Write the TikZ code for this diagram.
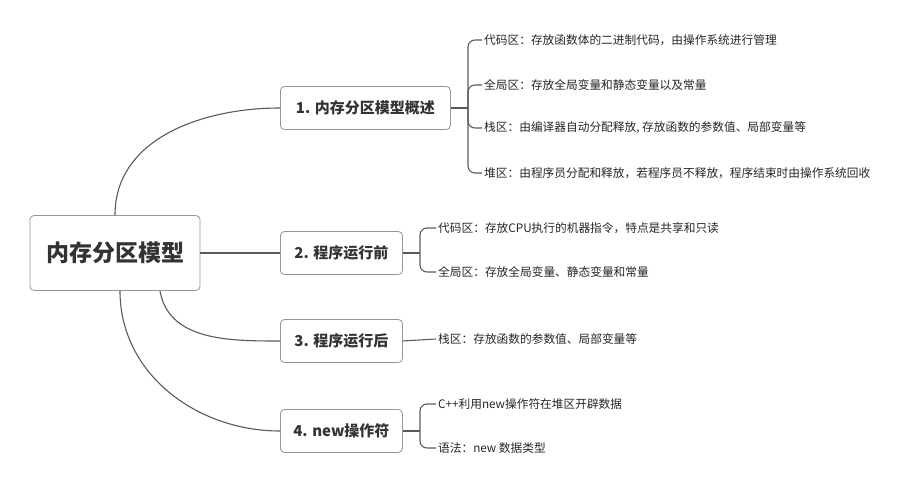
\documentclass[tikz,border=0pt]{standalone}
\usepackage{fontspec}
\setmainfont{Noto Sans CJK SC}
\usetikzlibrary{positioning}
\definecolor{lineg}{RGB}{90,90,90}
\definecolor{boxg}{RGB}{150,150,150}
\tikzset{
  root/.style={draw=boxg, rounded corners=4pt, fill=white, line width=0.8pt, minimum width=170pt, minimum height=75pt, font=\fontsize{23}{25}\selectfont\bfseries, text=black!80},
  topic/.style={draw=boxg, rounded corners=4pt, fill=white, line width=0.8pt, minimum height=43pt, inner xsep=9pt, font=\fontsize{15}{17}\selectfont\bfseries, text=black!80},
  leaf/.style={anchor=west, inner sep=2pt, font=\fontsize{11.7}{13}\selectfont, text=black!85},
  branch/.style={draw=lineg, line width=1.1pt},
  brace/.style={draw=lineg, line width=1.1pt, rounded corners=7pt}
}
\begin{document}
\begin{tikzpicture}[x=1pt, y=-1pt]
    \useasboundingbox (0,0) rectangle (921,494);
    %% root and topics
     \node[root] (root) at (115,253) {内存分区模型};
     \node[topic, anchor=west, minimum width=170pt] (t1) at (280,108) {1. 内存分区模型概述};
     \node[topic, anchor=west, minimum width=122pt] (t2) at (280,253) {2. 程序运行前};
     \node[topic, anchor=west, minimum width=122pt] (t3) at (280,341) {3. 程序运行后};
     \node[topic, anchor=west, minimum width=122pt] (t4) at (280,431) {4. new操作符};

     \draw[branch] (root.north) to[out=90, in=180] (t1.west);
     \draw[branch] (root.east) -- (t2.west);
     \draw[branch] (root.south) ++(45,0) coordinate (r3) to[out=-80, in=180] (t3.west);
     \draw[branch] (root.south) ++(5,0) coordinate (r4) to[out=-90, in=180] (t4.west);

    %% leaves of topic 1
     \node[leaf] (a1) at (482,40) {代码区：存放函数体的二进制代码，由操作系统进行管理};
     \node[leaf] (a2) at (482,85) {全局区：存放全局变量和静态变量以及常量};
     \node[leaf] (a3) at (482,128) {栈区：由编译器自动分配释放, 存放函数的参数值、局部变量等};
     \node[leaf] (a4) at (482,173) {堆区：由程序员分配和释放，若程序员不释放，程序结束时由操作系统回收};
     \coordinate (m1) at (468,108);
     \draw[branch] (t1.east) -- (m1);
     \draw[brace] (a1.west) -| (m1) |- (a4.west);
     \draw[brace] (a2.west) -| (m1);
     \draw[brace] (a3.west) -| (m1);

    %% leaves of topic 2
     \node[leaf] (b1) at (436,228) {代码区：存放CPU执行的机器指令，特点是共享和只读};
     \node[leaf] (b2) at (436,272) {全局区：存放全局变量、静态变量和常量};
     \coordinate (m2) at (420,253);
     \draw[branch] (t2.east) -- (m2);
     \draw[brace] (b1.west) -| (m2) |- (b2.west);

    %% leaf of topic 3
     \node[leaf] (c1) at (436,339) {栈区：存放函数的参数值、局部变量等};
     \draw[branch] (t3.east) -- (c1.west);

    %% leaves of topic 4
     \node[leaf] (d1) at (436,404) {C++利用new操作符在堆区开辟数据};
     \node[leaf] (d2) at (436,448) {语法：new 数据类型};
     \coordinate (m4) at (420,431);
     \draw[branch] (t4.east) -- (m4);
     \draw[brace] (d1.west) -| (m4) |- (d2.west);
\end{tikzpicture}
\end{document}
